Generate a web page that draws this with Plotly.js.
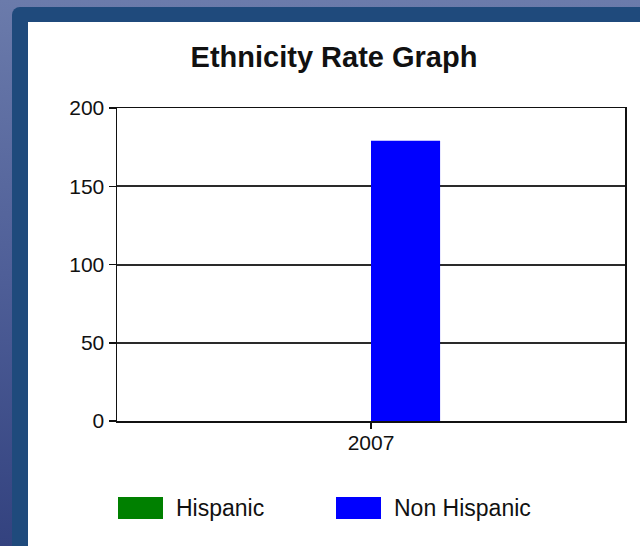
<!DOCTYPE html>
<html>
<head>
<meta charset="utf-8">
<script src="https://cdn.plot.ly/plotly-3.0.1.min.js"></script>
<style>
  html, body { margin:0; padding:0; width:640px; height:546px; overflow:hidden;
    background: linear-gradient(to bottom, #6b7bab 0%, #4f5f98 50%, #33427f 100%); }
  #panel { position:absolute; left:12px; top:7px; width:640px; height:560px;
    background:#1f4a7c; border-top-left-radius:8px; }
  #chart { position:absolute; left:28px; top:22px; width:612px; height:524px; background:#fff; }
</style>
</head>
<body>
<div id="panel"></div>
<div id="chart"></div>
<script>
const years = ['2007'];
const seriesNames = ['Hispanic', 'Non Hispanic'];
const seriesColors = ['#008000', '#0000ff'];
const hispanic = [0];
const nonHispanic = [179];
const yTicks = [0, 50, 100, 150, 200];

const values = [hispanic, nonHispanic];
const traces = seriesNames.map((name, i) => ({
  type: 'bar',
  name: name,
  x: years,
  y: values[i],
  marker: { color: seriesColors[i], line: { width: 0 } },
  hoverinfo: 'x+y+name'
}));

// plot area geometry (page px) for custom legend placement
const plotLeft = 117, plotW = 508, plotBottom = 421, plotH = 313;
const px = v => (v - plotLeft) / plotW;
const py = v => (plotBottom - v) / plotH;
const legendX = [118, 336];
const shapes = [], annotations = [];
seriesNames.forEach((name, i) => {
  shapes.push({ type:'rect', xref:'paper', yref:'paper',
    x0: px(legendX[i]), x1: px(legendX[i] + 45), y0: py(519), y1: py(497),
    fillcolor: seriesColors[i], line: { width: 0 } });
  annotations.push({ xref:'paper', yref:'paper', x: px(legendX[i] + 56), y: py(508),
    xanchor:'left', yanchor:'middle', showarrow:false, text: name,
    font: { family:'Liberation Sans, Arial, sans-serif', size: 23, color:'#111' } });
});

const layout = {
  width: 612, height: 524,
  margin: { l: 89, r: 15, t: 86, b: 125 },
  paper_bgcolor: '#ffffff', plot_bgcolor: '#ffffff',
  title: { text: '<b>Ethnicity Rate Graph</b>', x: 0.5, xanchor: 'center',
    y: 1 - 35/524, yref: 'container', yanchor: 'middle',
    font: { family: 'Liberation Sans, Arial, sans-serif', size: 29, color: '#111' } },
  showlegend: false,
  barmode: 'group',
  bargap: 0.728,
  bargroupgap: 0,
  xaxis: { type: 'category', range: [-0.5, 0.5], showgrid: false,
    showline: true, linecolor: '#111', linewidth: 1.5, mirror: true,
    ticks: 'outside', ticklen: 6, tickcolor: '#111', tickwidth: 1.5,
    ticklabelstandoff: -4,
    tickfont: { family: 'Liberation Sans, Arial, sans-serif', size: 21, color: '#111' } },
  yaxis: { range: [0, 200], tickvals: yTicks, ticktext: yTicks.map(String),
    showgrid: true, gridcolor: '#2a2a2a', gridwidth: 2, zeroline: false,
    showline: true, linecolor: '#111', linewidth: 1.5, mirror: true,
    ticks: 'outside', ticklen: 7, tickcolor: '#111', tickwidth: 1.5,
    tickfont: { family: 'Liberation Sans, Arial, sans-serif', size: 21, color: '#111' } },
  shapes: shapes,
  annotations: annotations
};

Plotly.newPlot('chart', traces, layout, { displayModeBar: false, staticPlot: true });
</script>
</body>
</html>
